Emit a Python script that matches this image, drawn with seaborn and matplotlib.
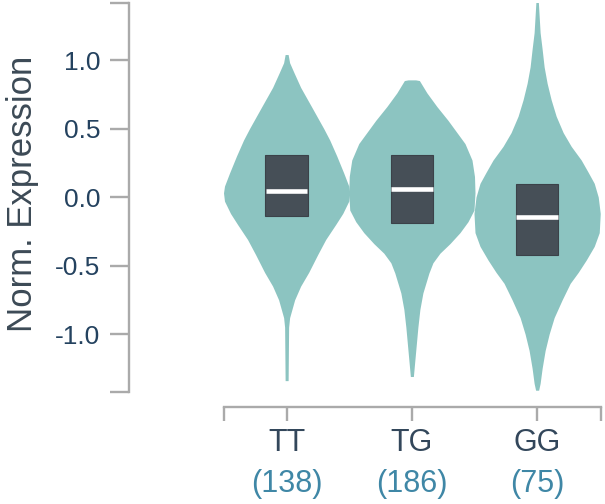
import numpy as np
import matplotlib.pyplot as plt
import seaborn as sns

# genotype groups
genotypes = ["TT", "TG", "GG"]
counts = [138, 186, 75]

# violin outlines: expression level -> half width (x units)
tt_levels = [1.04, 0.98, 0.905, 0.80, 0.657, 0.50, 0.416, 0.30, 0.175, 0.08, 0.03,
             -0.03, -0.12, -0.20, -0.31, -0.42, -0.55, -0.65, -0.75, -0.88, -0.95, -1.34]
tt_halfw = [0.012, 0.024, 0.06, 0.112, 0.2, 0.296, 0.344, 0.4, 0.456, 0.496, 0.504,
            0.496, 0.448, 0.392, 0.312, 0.248, 0.176, 0.112, 0.064, 0.024, 0.016, 0.012]

tg_levels = [0.855, 0.85, 0.76, 0.66, 0.56, 0.46, 0.39, 0.27, 0.15, 0.03, -0.095,
             -0.18, -0.26, -0.34, -0.41, -0.48, -0.555, -0.70, -0.82, -0.95, -1.07, -1.19, -1.31]
tg_halfw = [0.03, 0.06, 0.12, 0.2, 0.288, 0.368, 0.424, 0.48, 0.5, 0.504, 0.496,
            0.448, 0.384, 0.304, 0.224, 0.168, 0.136, 0.088, 0.064, 0.048, 0.036, 0.024, 0.012]

gg_levels = [1.45, 1.2, 1.08, 0.95, 0.83, 0.71, 0.59, 0.47, 0.37, 0.27, 0.18, 0.10, 0.0,
             -0.12, -0.26, -0.36, -0.46, -0.55, -0.63, -0.75, -0.88, -1.0, -1.12, -1.25, -1.36, -1.41]
gg_halfw = [0.008, 0.024, 0.04, 0.056, 0.08, 0.112, 0.152, 0.208, 0.272, 0.352, 0.408, 0.456, 0.488,
            0.504, 0.496, 0.456, 0.392, 0.328, 0.264, 0.2, 0.136, 0.096, 0.064, 0.04, 0.024, 0.012]

# box summary (upper quartile, median, lower quartile)
q3 = [0.31, 0.31, 0.095]
median = [0.044, 0.06, -0.145]
q1 = [-0.14, -0.19, -0.42]

violin_color = "#8cc4c1"
box_color = "#464f57"
axis_color = "#aaaaaa"

sns.set_style("ticks")
plt.rcParams["font.family"] = ["Liberation Sans", "DejaVu Sans"]

fig = plt.figure(figsize=(6.05, 5.04), dpi=100)
ax = fig.add_axes([224 / 605, 1 - 392 / 504, 377 / 605, 389 / 504])

profiles = [(tt_levels, tt_halfw), (tg_levels, tg_halfw), (gg_levels, gg_halfw)]
for i, (lv, hw) in enumerate(profiles):
    lv = np.asarray(lv)
    hw = np.asarray(hw)
    ax.fill_betweenx(lv, i - hw, i + hw, color=violin_color, linewidth=0, zorder=1)

xs = np.arange(len(genotypes))
ax.bar(xs, np.subtract(q3, q1), bottom=q1, width=0.34, color=box_color,
       edgecolor="#3b4249", linewidth=0.8, zorder=2)
ax.hlines(median, xs - 0.165, xs + 0.165, color="white", linewidth=3.3, zorder=3)

ymin, ymax = -1.423, 1.416
xmin, xmax = -0.5, 2.51
ax.set_ylim(ymin, ymax)
ax.set_xlim(xmin, xmax)

ax.set_yticks([1.0, 0.5, 0.0, -0.5, -1.0])
ax.set_yticklabels(["1.0", "0.5", "0.0", "-0.5", "-1.0"])
ax.set_yticks([ymin, ymax], minor=True)
ax.set_xticks(xs)
ax.set_xticklabels(genotypes)
ax.set_xticks([xmin, xmax], minor=True)

sns.despine(ax=ax, offset={"left": 68.4, "bottom": 10.8})
for side in ["left", "bottom"]:
    ax.spines[side].set_color(axis_color)
    ax.spines[side].set_linewidth(1.7)

ax.tick_params(axis="y", which="both", length=13.5, width=1.7, color=axis_color,
               labelsize=19, labelcolor="#24425f", pad=7)
ax.tick_params(axis="x", which="both", length=10, width=1.7, color=axis_color,
               labelsize=22, labelcolor="#33475b", pad=5)

for i, n in enumerate(counts):
    ax.annotate(f"({n})", xy=(i, 0), xycoords=("data", "axes fraction"),
                xytext=(0, -66), textcoords="offset points", ha="center", va="center",
                fontsize=22, color="#3f87a6", annotation_clip=False)

ax.set_ylabel("Norm. Expression", fontsize=25, color="#3c4a56")
ax.yaxis.set_label_coords(-0.49, 0.51)

fig.savefig("out.png", dpi=100)
